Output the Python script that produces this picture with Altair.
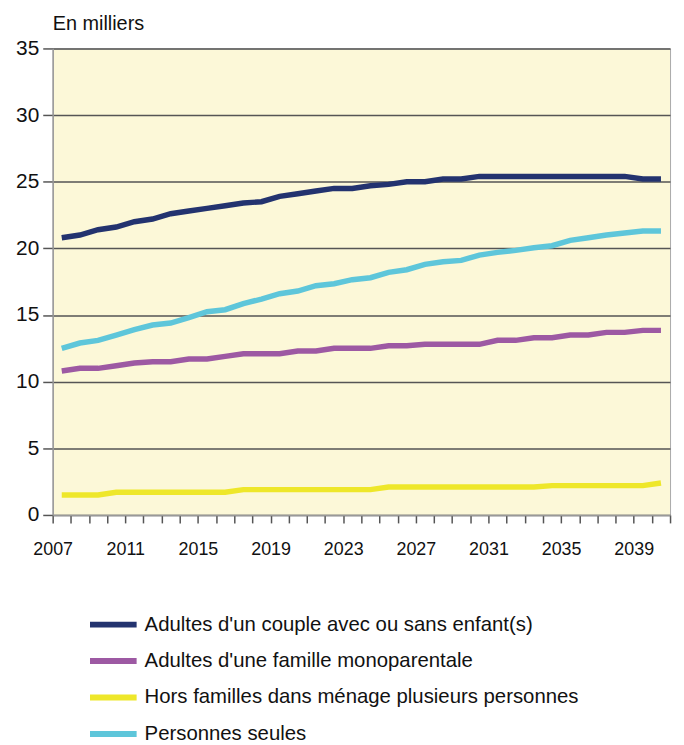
import altair as alt
import pandas as pd

years = list(range(2007, 2041))
series_names = [
    "Adultes d'un couple avec ou sans enfant(s)",
    "Adultes d'une famille monoparentale",
    "Hors familles dans ménage plusieurs personnes",
    "Personnes seules",
]
series_colors = ["#23336F", "#9D59A3", "#EEE72A", "#5EC6DA"]

couple = [20.8, 21.0, 21.4, 21.6, 22.0, 22.2, 22.6, 22.8, 23.0, 23.2,
          23.4, 23.5, 23.9, 24.1, 24.3, 24.5, 24.5, 24.7, 24.8, 25.0,
          25.0, 25.2, 25.2, 25.4, 25.4, 25.4, 25.4, 25.4, 25.4, 25.4,
          25.4, 25.4, 25.2, 25.2]
mono = [10.8, 11.0, 11.0, 11.2, 11.4, 11.5, 11.5, 11.7, 11.7, 11.9,
        12.1, 12.1, 12.1, 12.3, 12.3, 12.5, 12.5, 12.5, 12.7, 12.7,
        12.8, 12.8, 12.8, 12.8, 13.1, 13.1, 13.3, 13.3, 13.5, 13.5,
        13.7, 13.7, 13.85, 13.85]
hors = [1.5, 1.5, 1.5, 1.7, 1.7, 1.7, 1.7, 1.7, 1.7, 1.7,
        1.9, 1.9, 1.9, 1.9, 1.9, 1.9, 1.9, 1.9, 2.1, 2.1,
        2.1, 2.1, 2.1, 2.1, 2.1, 2.1, 2.1, 2.2, 2.2, 2.2,
        2.2, 2.2, 2.2, 2.4]
seules = [12.5, 12.9, 13.1, 13.5, 13.9, 14.25, 14.4, 14.8, 15.25, 15.4,
          15.85, 16.2, 16.6, 16.8, 17.2, 17.35, 17.65, 17.8, 18.2, 18.4,
          18.8, 19.0, 19.1, 19.5, 19.7, 19.85, 20.05, 20.2, 20.6, 20.8,
          21.0, 21.15, 21.3, 21.3]

y_ticks = [0, 5, 10, 15, 20, 25, 30, 35]
x_boundaries = [y - 0.5 for y in range(2007, 2042)]

rows = []
for name, vals in zip(series_names, [couple, mono, hors, seules]):
    for yr, v in zip(years, vals):
        rows.append({"annee": yr, "valeur": v, "serie": name})
df = pd.DataFrame(rows)

FONT = "Liberation Sans"

chart = alt.Chart(df).mark_line(strokeWidth=5.5, strokeCap="butt", strokeJoin="miter").encode(
    x=alt.X("annee:Q",
            scale=alt.Scale(domain=[2006.5, 2040.5], nice=False, zero=False),
            axis=alt.Axis(values=x_boundaries, title=None, grid=False,
                          tickSize=8, tickColor="#555555", tickWidth=1.5,
                          domainColor="#999999", domainWidth=1.5,
                          labelExpr="(datum.value - 2006.5) % 4 == 0 ? toString(datum.value + 0.5) : ''",
                          labelOverlap=False, labelFlush=False, labelFontSize=18,
                          labelColor="#111111", labelPadding=18, labelFont=FONT)),
    y=alt.Y("valeur:Q",
            scale=alt.Scale(domain=[0, 35], nice=False),
            axis=alt.Axis(values=y_ticks, title=None, grid=True,
                          gridColor="#555555", gridWidth=1.5,
                          tickSize=10, tickColor="#555555", tickWidth=1.5,
                          domainColor="#999999", domainWidth=1.5,
                          labelFontSize=21, labelColor="#111111", labelPadding=4,
                          labelFont=FONT)),
    color=alt.Color("serie:N",
                    scale=alt.Scale(domain=series_names, range=series_colors),
                    legend=alt.Legend(title=None, orient="none", legendX=48.6, legendY=568,
                                      direction="vertical",
                                      symbolType="M-2.5,0H2.5", symbolSize=353,
                                      symbolStrokeWidth=6, labelOffset=19,
                                      labelFontSize=20.5, labelFont=FONT, labelColor="#111111",
                                      rowPadding=11.7, padding=0, labelLimit=600)),
    detail="serie:N",
).properties(
    width=622,
    height=470,
    title=alt.TitleParams("En milliers", anchor="start", fontSize=20, fontWeight="normal",
                          font=FONT, color="#111111", offset=4, frame="group"),
    autosize=alt.AutoSizeParams(type="none"),
    padding={"left": 45, "top": 38, "right": 6, "bottom": 228},
).configure_view(
    fill="#FCF8D8", stroke="#AAAAAA", strokeWidth=1
)

chart.save("out.html", embed_options={"renderer": "svg", "actions": False})
